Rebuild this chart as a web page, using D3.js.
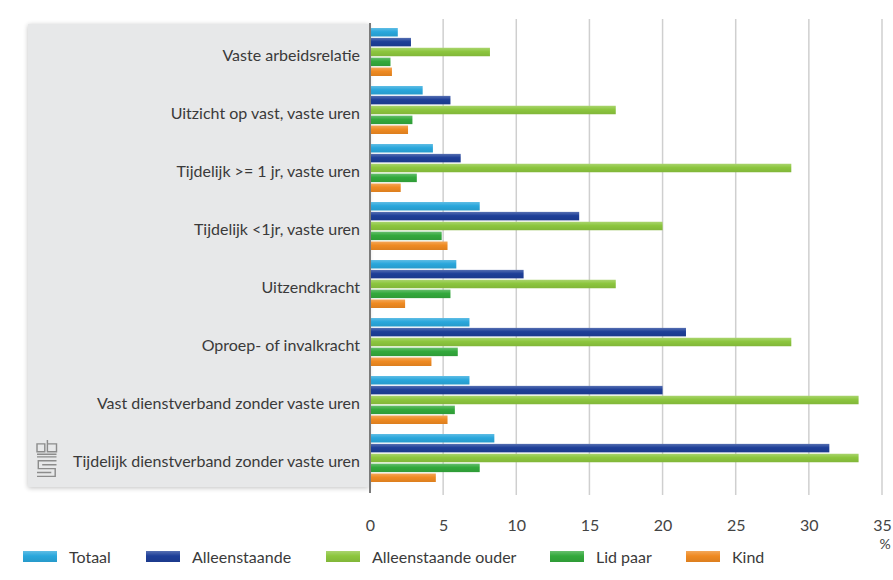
<!DOCTYPE html>
<html>
<head>
<meta charset="utf-8">
<script src="https://cdn.jsdelivr.net/npm/d3@7/dist/d3.min.js"></script>
<style>
  body { margin: 0; background: #fff; }
  svg { display: block; font-family: Lato, "Open Sans", sans-serif; }
</style>
</head>
<body>
<svg id="chart" width="893" height="580"></svg>
<script>
// data
var categories = [
  "Vaste arbeidsrelatie",
  "Uitzicht op vast, vaste uren",
  "Tijdelijk >= 1 jr, vaste uren",
  "Tijdelijk <1jr, vaste uren",
  "Uitzendkracht",
  "Oproep- of invalkracht",
  "Vast dienstverband zonder vaste uren",
  "Tijdelijk dienstverband zonder vaste uren"
];
var seriesNames = ["Totaal", "Alleenstaande", "Alleenstaande ouder", "Lid paar", "Kind"];
var totaal        = [1.9, 3.6, 4.3, 7.5, 5.9, 6.8, 6.8, 8.5];
var alleenstaande = [2.8, 5.5, 6.2, 14.3, 10.5, 21.6, 20.0, 31.4];
var alleenOuder   = [8.2, 16.8, 28.8, 20.0, 16.8, 28.8, 33.4, 33.4];
var lidPaar       = [1.4, 2.9, 3.2, 4.9, 5.5, 6.0, 5.8, 7.5];
var kind          = [1.5, 2.6, 2.1, 5.3, 2.4, 4.2, 5.3, 4.5];
var xTicks = [0, 5, 10, 15, 20, 25, 30, 35];

var seriesValues = [totaal, alleenstaande, alleenOuder, lidPaar, kind];
var colors = ["#2aa7dc", "#1e3f98", "#8cc63e", "#33a93c", "#ef8a22"];

var margin = {top: 23, left: 370, right: 11, bottom: 93};
var width = 893 - margin.left - margin.right,
    height = 580 - margin.top - margin.bottom;

var svg = d3.select("#chart");

// gradients for the slightly shiny bars
var defs = svg.append("defs");
colors.forEach(function(c, i){
  var g = defs.append("linearGradient")
    .attr("id", "grad" + i)
    .attr("x1", 0).attr("y1", 0).attr("x2", 0).attr("y2", 1);
  g.append("stop").attr("offset", "0%").attr("stop-color", d3.interpolateRgb(c, "#fff")(0.25));
  g.append("stop").attr("offset", "45%").attr("stop-color", c);
  g.append("stop").attr("offset", "100%").attr("stop-color", d3.interpolateRgb(c, "#000")(0.08));
});
var shadow = defs.append("filter").attr("id", "soft")
  .attr("x", "-5%").attr("y", "-5%").attr("width", "110%").attr("height", "110%");
shadow.append("feGaussianBlur").attr("in", "SourceAlpha").attr("stdDeviation", 2.5);
shadow.append("feOffset").attr("dx", 0).attr("dy", 1).attr("result", "b");
var fc = shadow.append("feComponentTransfer");
fc.append("feFuncA").attr("type", "linear").attr("slope", 0.25);
var mg = shadow.append("feMerge");
mg.append("feMergeNode");
mg.append("feMergeNode").attr("in", "SourceGraphic");

// gray label panel
svg.append("rect")
  .attr("x", 28).attr("y", 24)
  .attr("width", 341).attr("height", 463)
  .attr("fill", "#e7e8e9")
  .attr("filter", "url(#soft)");

var x = d3.scaleLinear().domain([0, 35]).range([0, width]);
var y0 = d3.scaleBand().domain(categories).range([0, height]);
var y1 = d3.scaleBand().domain(seriesNames).range([5, 53]).paddingInner(0.14);

var g = svg.append("g").attr("transform", "translate(" + margin.left + "," + margin.top + ")");

// gridlines
g.append("g").selectAll("line")
  .data(xTicks.slice(1))
  .join("line")
  .attr("x1", function(d){ return x(d); })
  .attr("x2", function(d){ return x(d); })
  .attr("y1", -4).attr("y2", height + 8)
  .attr("stroke", "#cfcfcf")
  .attr("stroke-width", 1.5);

// bars
var groups = g.append("g").selectAll("g")
  .data(categories)
  .join("g")
  .attr("transform", function(d){ return "translate(0," + y0(d) + ")"; });

groups.selectAll("rect")
  .data(function(d, i){ return seriesNames.map(function(s, k){ return {k: k, v: seriesValues[k][i]}; }); })
  .join("rect")
  .attr("x", 0)
  .attr("y", function(d){ return y1(seriesNames[d.k]); })
  .attr("width", function(d){ return x(d.v); })
  .attr("height", y1.bandwidth())
  .attr("fill", function(d){ return "url(#grad" + d.k + ")"; });

// zero axis line
g.append("line")
  .attr("x1", 0).attr("x2", 0)
  .attr("y1", 0).attr("y2", height + 6)
  .attr("stroke", "#7a7a7a")
  .attr("stroke-width", 2);

// category labels
var yAxis = g.append("g")
  .attr("transform", "translate(-10,4)")
  .call(d3.axisLeft(y0).tickSize(0).tickPadding(0));
yAxis.select(".domain").remove();
yAxis.selectAll("text")
  .style("font-size", "16px")
  .style("fill", "#3a3a3a")
  .style("font-family", "Lato, 'Open Sans', sans-serif");

// x axis tick labels
var xAxis = g.append("g")
  .attr("transform", "translate(0," + (height + 33) + ")")
  .call(d3.axisBottom(x).tickValues(xTicks).tickSize(0).tickPadding(0));
xAxis.select(".domain").remove();
xAxis.selectAll("text")
  .style("font-size", "16px")
  .style("fill", "#444")
  .style("font-family", "Lato, 'Open Sans', sans-serif");

g.append("text")
  .attr("x", x(35) + 3)
  .attr("y", height + 62)
  .attr("text-anchor", "middle")
  .style("font-size", "14px")
  .style("fill", "#444")
  .text("%");

// legend
var legendX = [23, 146, 326, 550, 686];
var legend = svg.append("g").attr("transform", "translate(0,557)");
var li = legend.selectAll("g")
  .data(seriesNames)
  .join("g")
  .attr("transform", function(d, i){ return "translate(" + legendX[i] + ",0)"; });
li.append("rect")
  .attr("x", 0).attr("y", -6)
  .attr("width", 34).attr("height", 11)
  .attr("fill", function(d, i){ return "url(#grad" + i + ")"; });
li.append("text")
  .attr("x", 46).attr("y", 0)
  .attr("dy", "0.35em")
  .style("font-size", "16px")
  .style("fill", "#3a3a3a")
  .text(function(d){ return d; });

// cbs logo (simplified)
var logo = svg.append("g")
  .attr("transform", "translate(37,440) scale(1.3)")
  .attr("fill", "none")
  .attr("stroke", "#8c8c8c")
  .attr("stroke-width", 1.1);
logo.append("path").attr("d", "M8,0 V9 H15 V3 H8 M0,3 H6 V9 H0 Z");
logo.append("path").attr("d", "M0,11 H15 M0,13 H15");
logo.append("path").attr("d", "M15,16 H1 V22 H14 V28 H0");
logo.append("path").attr("d", "M4,19 H15 M0,25 H11");
</script>
</body>
</html>
